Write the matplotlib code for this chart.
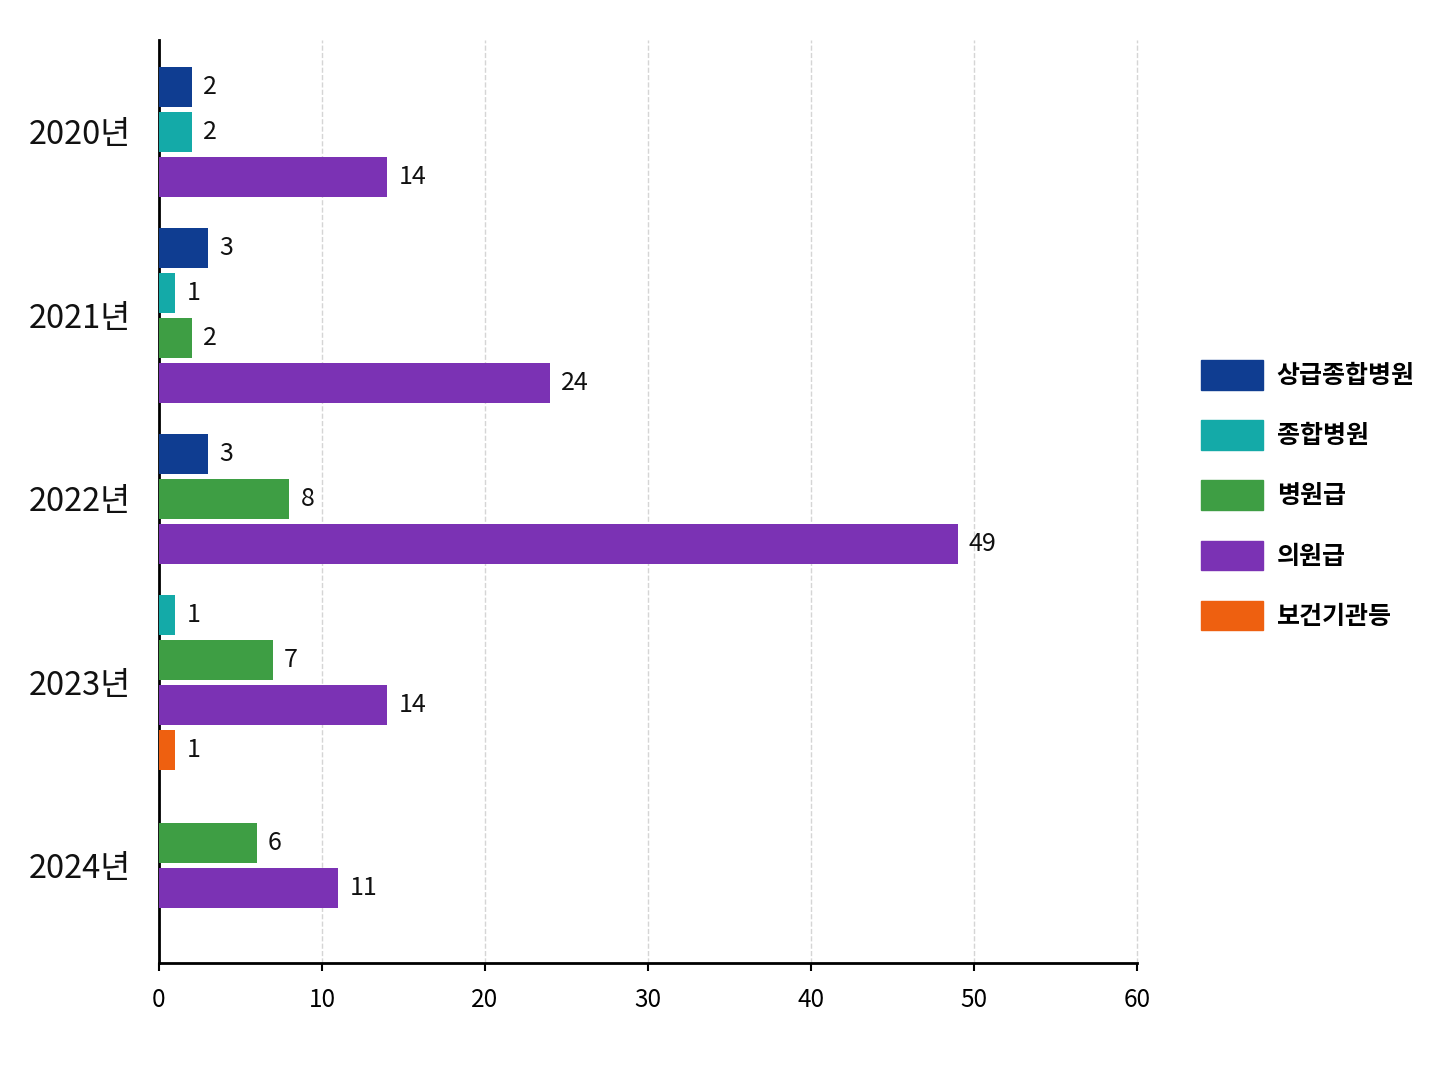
import matplotlib
matplotlib.use("Agg")
import matplotlib.pyplot as plt
import numpy as np

plt.rcParams['font.family'] = ['Noto Sans CJK KR', 'DejaVu Sans']

years = ["2020년", "2021년", "2022년", "2023년", "2024년"]
categories = ["상급종합병원", "종합병원", "병원급", "의원급", "보건기관등"]
tertiary = [2, 3, 3, 0, 0]
general = [2, 1, 0, 1, 0]
hospital = [0, 2, 8, 7, 6]
clinic = [14, 24, 49, 14, 11]
public = [0, 0, 0, 1, 0]
series = [tertiary, general, hospital, clinic, public]
colors = ['#0f3d91', '#14aaa8', '#3e9e44', '#7b32b4', '#ee6010']

fig = plt.figure(figsize=(14.48, 10.86), dpi=100)
ax = fig.add_axes([0.1098, 0.1133, 0.6755, 0.8499])

pitch = 0.245
bar_h = 0.218

for i, year in enumerate(years):
    present = [k for k in range(len(categories)) if series[k][i] > 0]
    n = len(present)
    for j, k in enumerate(present):
        y = i + (j - (n - 1) / 2) * pitch
        v = series[k][i]
        ax.barh(y, v, height=bar_h, color=colors[k], zorder=3)
        ax.annotate(str(v), xy=(v, y), xytext=(8, 0), textcoords='offset points',
                    va='center', ha='left', fontsize=18, color='#111111')

ax.set_xlim(0, 60)
ax.set_ylim(4.53, -0.50)
ax.set_xticks(np.arange(0, 61, 10))
ax.set_yticks(range(len(years)))
ax.set_yticklabels(years, fontsize=23.5, color='#111111')
ax.tick_params(axis='x', labelsize=17.5, length=6, width=1.5, pad=11)
ax.tick_params(axis='y', length=0, pad=20)
ax.grid(axis='x', linestyle='--', color='#d5d5d5', linewidth=1, zorder=0)
for line in ax.get_xgridlines():
    line.set_clip_on(False)
for s in ['top', 'right']:
    ax.spines[s].set_visible(False)
for s in ['left', 'bottom']:
    ax.spines[s].set_linewidth(2)
    ax.spines[s].set_color('black')

handles = [plt.Rectangle((0, 0), 1, 1, color=c) for c in colors]
fig.legend(handles, categories, loc='center left', bbox_to_anchor=(0.8205, 0.544),
           frameon=False, prop={'size': 18, 'weight': 'bold'}, handlelength=2.5,
           handleheight=1.45, handletextpad=0.55, labelspacing=1.22, borderpad=0)

fig.savefig("out.png", dpi=100)
